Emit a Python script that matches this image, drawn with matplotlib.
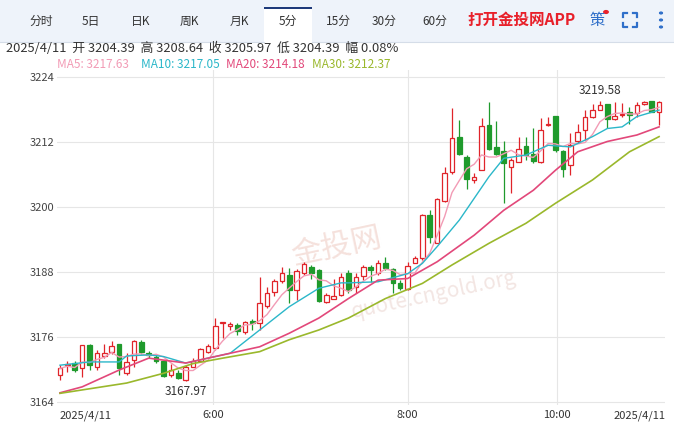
import matplotlib
matplotlib.use("Agg")
import matplotlib.pyplot as plt
import numpy as np
import pandas as pd
from matplotlib.patches import Rectangle

plt.rcParams['font.family'] = ['Noto Sans CJK SC', 'DejaVu Sans']

# candles: open, high, low, close (5-minute bars)
opens = [3169.0,3170.8,3171.2,3170.2,3174.5,3170.5,3172.5,3173.3,3174.8,3169.4,
         3171.8,3175.0,3173.1,3172.4,3171.5,3169.0,3169.3,3168.0,3170.5,3171.6,
         3173.3,3173.9,3178.5,3178.1,3178.3,3177.0,3179.0,3178.5,3181.7,3184.4,
         3186.4,3187.5,3184.7,3187.8,3189.0,3188.4,3182.5,3183.1,3183.8,3187.9,
         3185.3,3187.3,3189.0,3187.8,3189.6,3188.5,3185.9,3184.8,3189.7,3190.5,
         3198.6,3193.4,3201.2,3206.5,3212.9,3209.3,3204.9,3206.9,3215.1,3211.1,
         3210.3,3207.4,3208.4,3211.3,3209.8,3208.4,3215.1,3216.8,3210.3,3207.8,
         3212.1,3214.2,3216.7,3218.0,3219.1,3216.2,3216.9,3217.6,3217.4,3219.1,
         3219.5,3217.5]
highs = [3170.8,3171.6,3171.5,3174.5,3174.7,3173.6,3174.7,3175.3,3174.8,3173.0,
         3175.5,3175.5,3173.5,3172.7,3171.5,3171.0,3169.9,3170.8,3172.1,3173.9,
         3174.8,3179.5,3178.8,3178.8,3178.6,3179.0,3179.3,3187.1,3185.3,3186.8,
         3189.0,3188.7,3188.5,3189.9,3189.3,3188.5,3184.1,3186.8,3187.9,3188.4,
         3187.8,3189.3,3189.3,3190.2,3190.8,3188.7,3186.5,3189.9,3190.9,3198.8,
         3199.4,3201.6,3207.4,3218.2,3216.1,3209.6,3206.2,3216.4,3219.3,3215.8,
         3212.1,3209.0,3213.0,3213.0,3214.5,3216.4,3216.7,3216.8,3210.5,3213.7,
         3215.4,3217.9,3219.0,3219.58,3219.1,3219.4,3219.2,3218.5,3219.3,3219.5,
         3219.5,3219.5]
lows = [3168.1,3169.6,3169.6,3168.7,3170.0,3169.9,3172.1,3172.9,3169.0,3169.0,
        3170.5,3172.9,3172.1,3171.2,3168.7,3168.7,3168.2,3167.97,3170.4,3171.5,
        3173.0,3173.6,3175.8,3177.3,3176.4,3176.6,3177.3,3177.3,3181.3,3183.5,
        3185.9,3182.3,3182.8,3187.5,3186.8,3182.5,3182.2,3183.0,3183.5,3184.1,
        3184.1,3186.5,3186.2,3187.5,3188.4,3184.1,3184.7,3184.7,3189.6,3190.2,
        3193.3,3193.3,3201.0,3206.1,3209.6,3203.3,3204.4,3206.8,3210.5,3209.6,
        3200.8,3202.6,3208.4,3208.7,3208.2,3208.2,3214.9,3210.2,3205.6,3205.9,
        3211.8,3212.4,3216.4,3217.9,3214.5,3216.1,3216.7,3215.4,3216.7,3218.9,
        3217.6,3215.2]
closes = [3170.2,3171.0,3169.9,3174.5,3170.8,3173.1,3173.0,3174.4,3170.2,3171.3,
          3175.3,3173.3,3172.7,3171.5,3168.8,3169.9,3168.4,3170.5,3171.5,3173.7,
          3174.4,3178.1,3178.7,3178.4,3177.2,3178.8,3178.5,3182.2,3184.1,3186.4,
          3187.8,3184.7,3188.2,3189.4,3187.8,3182.7,3183.8,3183.6,3187.1,3184.7,
          3187.1,3188.9,3188.3,3189.6,3188.7,3186.0,3185.0,3189.1,3190.5,3198.5,
          3194.4,3201.4,3206.3,3212.7,3209.8,3205.2,3205.5,3214.9,3210.8,3209.8,
          3208.2,3208.7,3210.8,3209.6,3208.5,3214.3,3215.4,3210.5,3207.1,3211.4,
          3213.9,3216.7,3217.9,3218.8,3216.2,3216.8,3217.1,3217.0,3218.8,3219.4,
          3217.6,3219.3]

# moving averages (candle index, value)
ma10_idx = [0,4,8,9,12,14,17,20,23,27,31,35,38,39,43,47,49,51,54,58,60,63,66,69,72,74,76,78,81]
ma10_val = [3170.8,3171.4,3171.4,3172.5,3172.7,3172.4,3171.2,3172.1,3173.0,3177.3,3181.6,3185.0,3186.0,3186.0,
            3186.2,3187.7,3189.6,3192.7,3197.6,3205.6,3209.0,3209.6,3211.4,3211.1,3213.0,3214.5,3214.8,3216.7,3217.9]
ma20_idx = [0,3,8,12,17,20,24,27,31,35,39,43,47,51,56,60,64,67,70,74,78,81]
ma20_val = [3165.7,3166.8,3169.9,3172.1,3171.2,3172.1,3173.3,3174.2,3176.7,3179.5,3183.1,
            3186.5,3186.8,3189.9,3194.8,3199.4,3203.1,3206.8,3210.2,3212.1,3213.3,3214.8]
ma30_idx = [0,9,14,18,22,27,31,35,39,44,49,53,58,63,67,72,77,81]
ma30_val = [3165.6,3167.5,3169.3,3171.1,3172.1,3173.3,3175.5,3177.3,3179.5,3183.1,3185.9,
            3189.3,3193.3,3197.0,3200.7,3205.0,3210.2,3213.0]

yticks = [3164, 3176, 3188, 3200, 3212, 3224]
xtick_pos = [3.4, 20.7, 47.0, 67.2, 78.4]
xtick_lab = ['2025/4/11', '6:00', '8:00', '10:00', '2025/4/11']

tabs = ['分时', '5日', '日K', '周K', '月K', '5分', '15分', '30分', '60分']
tab_x = [41, 91, 141, 189, 239, 288, 338, 384, 435]

W, H = 674, 422
fig = plt.figure(figsize=(W/100, H/100), dpi=100)
fig.patch.set_facecolor('white')

def fx(x): return x / W
def fy(y): return 1 - y / H

# tab bar
fig.patches.append(Rectangle((0, fy(42)), 1, 42/H, transform=fig.transFigure,
                             facecolor='#eef3fa', edgecolor='none', zorder=0))
fig.patches.append(Rectangle((fx(264), fy(43)), 48/W, 36/H, transform=fig.transFigure,
                             facecolor='white', edgecolor='none', zorder=1))
fig.patches.append(Rectangle((fx(264), fy(9)), 48/W, 2/H, transform=fig.transFigure,
                             facecolor='#1e3a7a', edgecolor='none', zorder=2))
fig.lines.append(plt.Line2D([0, fx(264)], [fy(42)]*2, transform=fig.transFigure, color='#d5dde8', lw=0.8))
fig.lines.append(plt.Line2D([fx(312), 1], [fy(42)]*2, transform=fig.transFigure, color='#d5dde8', lw=0.8))
for t, x in zip(tabs, tab_x):
    fig.text(fx(x), fy(21), t, ha='center', va='center', fontsize=8.5, color='#333333')
fig.text(fx(467), fy(20), '打开金投网APP', ha='left', va='center', fontsize=11.2,
         color='#e8202a', fontweight='bold')
fig.text(fx(597), fy(20), '策', ha='center', va='center', fontsize=11, color='#2f6fc9')
fig.patches.append(plt.Circle((fx(606), fy(12)), 2.2/W, transform=fig.transFigure, color='#e8202a'))
# fullscreen icon (corner brackets)
blue = '#2f6fc9'
cx0, cx1, cy0, cy1, k = 623, 637, 13, 27, 4
for (xa, ya, dx, dy) in [(cx0, cy0, 1, 1), (cx1, cy0, -1, 1), (cx0, cy1, 1, -1), (cx1, cy1, -1, -1)]:
    fig.lines.append(plt.Line2D([fx(xa + dx*k), fx(xa), fx(xa)], [fy(ya), fy(ya), fy(ya + dy*k)],
                                transform=fig.transFigure, color=blue, lw=1.6))
for yy in [13, 20, 27]:
    fig.patches.append(plt.Circle((fx(661), fy(yy)), 1.4/W, transform=fig.transFigure, color=blue))

fig.text(fx(6), fy(48), '2025/4/11  开 3204.39  高 3208.64  收 3205.97  低 3204.39  幅 0.08%',
         ha='left', va='center', fontsize=9.3, color='#333333')
ma_items = [('MA5: 3217.63', '#f29bb5', 57), ('MA10: 3217.05', '#2bb7c9', 141),
            ('MA20: 3214.18', '#e2487a', 226), ('MA30: 3212.37', '#9ab82c', 312)]
for t, c, x in ma_items:
    fig.text(fx(x), fy(64), t, ha='left', va='center', fontsize=8.5, color=c)

# main axes
ax = fig.add_axes([fx(57), fy(405), (665-57)/W, (405-70)/H])
ax.set_xlim(-0.4, 81.8)
ax.set_ylim(3163.45, 3225.3)
for s in ax.spines.values():
    s.set_visible(False)
ax.set_yticks(yticks)
ax.set_yticklabels([str(v) for v in yticks])
ax.tick_params(axis='y', length=0, labelsize=8, labelcolor='#444444', pad=2)
ax.set_xticks(xtick_pos[1:4])
ax.set_xticklabels([])
ax.tick_params(axis='x', length=0)
ax.grid(True, color='#e6e6e6', lw=0.8)
ax.set_axisbelow(True)
for p, l in zip(xtick_pos, xtick_lab):
    ax.annotate(l, (p, 0), xycoords=('data', 'axes fraction'), xytext=(0, -7.5),
                textcoords='offset points', ha='center', va='center', fontsize=8, color='#333333')

ax.text(0.62, 0.33, 'quote.cngold.org', transform=ax.transAxes, ha='center', va='center',
        fontsize=15, color='#f3e6e3', rotation=12, zorder=0)
ax.text(0.46, 0.47, '金投网', transform=ax.transAxes, ha='center', va='center',
        fontsize=22, color='#f5e1dc', rotation=12, zorder=0)

red, green = '#e0242a', '#1f9a2c'
w = 0.62
for i, (o, h, l, c) in enumerate(zip(opens, highs, lows, closes)):
    up = c >= o
    col = red if up else green
    lo, hi = min(o, c), max(o, c)
    ax.vlines(i, l, lo, color=col, lw=0.9, zorder=3)
    ax.vlines(i, hi, h, color=col, lw=0.9, zorder=3)
    ax.add_patch(Rectangle((i - w/2, lo), w, max(hi - lo, 0.12),
                           facecolor='white' if up else green, edgecolor=col, lw=0.9, zorder=4))

ma5 = pd.Series(closes).rolling(5, min_periods=1).mean()
ax.plot(np.arange(len(closes)), ma5, color='#f29bb5', lw=1.0, zorder=5)
ax.plot(ma10_idx, ma10_val, color='#2bb7c9', lw=1.0, zorder=5)
ax.plot(ma20_idx, ma20_val, color='#e2487a', lw=1.2, zorder=5)
ax.plot(ma30_idx, ma30_val, color='#9ab82c', lw=1.2, zorder=5)

imin = int(np.argmin(lows)); imax = int(np.argmax(highs))
ax.annotate(f'{lows[imin]:.2f}', (imin, lows[imin]), xytext=(0, -3), textcoords='offset points',
            ha='center', va='top', fontsize=8.5, color='#333333')
ax.annotate(f'{highs[imax]:.2f}', (imax, highs[imax]), xytext=(0, 3), textcoords='offset points',
            ha='center', va='bottom', fontsize=8.5, color='#333333')

fig.savefig('out.png', dpi=100)
